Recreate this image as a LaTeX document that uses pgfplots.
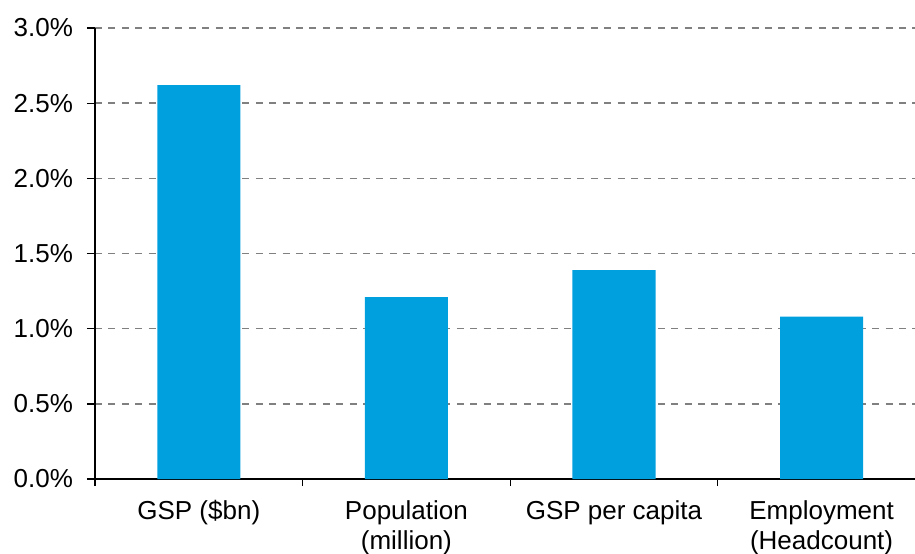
\documentclass[border=0pt]{standalone}
\usepackage{pgfplots}
\pgfplotsset{compat=1.18}
\usepackage{fontspec}
\setmainfont{Liberation Sans}
\definecolor{barblue}{RGB}{0,160,223}
\definecolor{gridgray}{RGB}{128,128,128}

\begin{document}
\begin{tikzpicture}
\begin{axis}[
  at={(0,0)}, anchor=south west,
  scale only axis,
  width=615pt, height=338.25pt,
  xmin=-0.5, xmax=3.45,
  ymin=0, ymax=3,
  axis x line=bottom, axis y line=left,
  axis line style={-, line width=1pt, black},
  xtick={0,1,2,3},
  xticklabels={{GSP (\$bn)}, {Population\\(million)}, {GSP per capita}, {Employment\\(Headcount)}},
  xticklabel style={align=center, font=\fontsize{19.5}{22.5}\selectfont, anchor=north, yshift=-6.5pt},
  major x tick style={draw=none},
  minor xtick={-0.5,0.5,1.5,2.5},
  ytick={0,0.5,1,1.5,2,2.5,3},
  yticklabel={\pgfmathprintnumber[fixed,fixed zerofill,precision=1]{\tick}\%},
  yticklabel style={font=\fontsize{19.5}{21}\selectfont, xshift=-7pt, /pgf/number format/assume math mode=true},
  ymajorgrids,
  grid style={gridgray, dash pattern=on 5.25pt off 4.8pt, line width=1.1pt},
  tick align=outside,
  major tick length=6pt,
  minor tick length=5.25pt,
  tick style={black, line width=1pt},
  bar width=0.4,
]
\addplot[ybar, fill=barblue, draw=none] coordinates {(0,2.62) (1,1.21) (2,1.39) (3,1.08)};
\end{axis}
\pgfresetboundingbox
\path[use as bounding box] (-71.25pt,-56.25pt) rectangle (615pt,359.25pt);
\end{tikzpicture}
\end{document}
